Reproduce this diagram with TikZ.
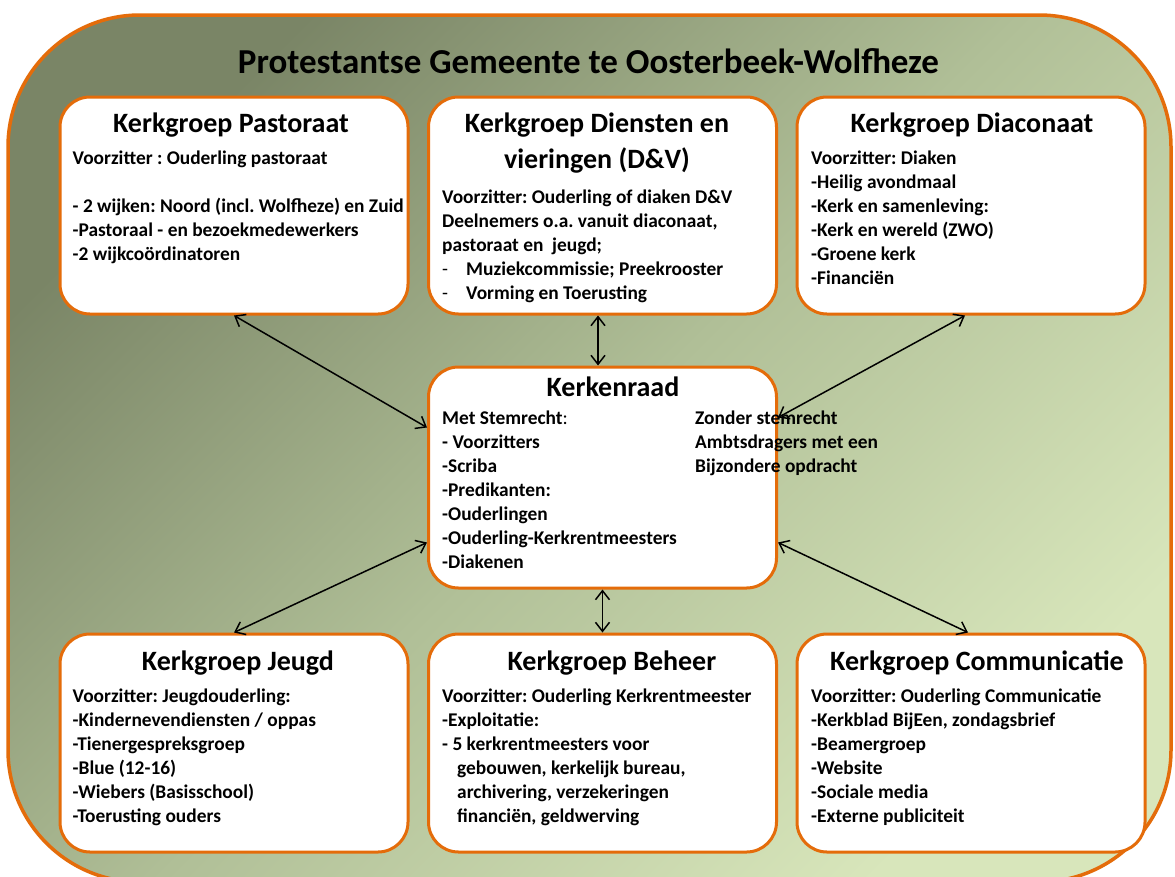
\documentclass[tikz,border=0pt]{standalone}
\usepackage{fontspec}
\setmainfont{Carlito}
\usetikzlibrary{arrows.meta,calc}
\definecolor{orng}{HTML}{E46C0A}
\definecolor{bgdark}{HTML}{7A8566}
\definecolor{bgmid}{HTML}{B0BF97}
\definecolor{bglight}{HTML}{D8E6BB}
\frenchspacing
\begin{document}
\begin{tikzpicture}[x=1pt,y=-1pt,
  box/.style={draw=orng, line width=3pt, fill=white, rounded corners=30pt, inner sep=0pt},
  ttl/.style={font=\fontsize{35}{42}\selectfont\bfseries, anchor=base, inner sep=0pt},
  hd/.style={font=\fontsize{28}{34}\selectfont\bfseries, anchor=base, inner sep=0pt},
  bd/.style={font=\fontsize{19.4}{24}\selectfont\bfseries, anchor=base west, inner sep=0pt},
  link/.style={{Straight Barb[length=9pt,width=14pt]}-{Straight Barb[length=9pt,width=14pt]}, line width=1.5pt, black}
]
\useasboundingbox (0,0) rectangle (1175,876);
\fill[white] (0,0) rectangle (1175,876);
% outer frame
\path[draw=orng, line width=3.5pt, rounded corners=132pt,
  top color=bgdark, bottom color=bglight, middle color=bgmid, shading angle=45]
  (8,15) rectangle (1171,882);

\node[ttl] (title) at (588.5,73) {Protestantse Gemeente te Oosterbeek-Wolfheze};

% boxes
\node[box, minimum width=348pt, minimum height=217pt] (pas) at (234,205.5) {};
\node[box, minimum width=348pt, minimum height=217pt] (dv) at (602.5,205.5) {};
\node[box, minimum width=348pt, minimum height=217pt] (dia) at (971,205.5) {};
\node[box, minimum width=348pt, minimum height=221pt] (ker) at (602.5,477.5) {};
\node[box, minimum width=348pt, minimum height=218pt] (jeu) at (234,743) {};
\node[box, minimum width=348pt, minimum height=218pt] (beh) at (602.5,743) {};
\node[box, minimum width=348pt, minimum height=218pt] (com) at (971,743) {};

% Pastoraat
\node[hd] (pash) at (231,132) {Kerkgroep Pastoraat};
\node[bd] (pas1) at (72.5,164) {Voorzitter : Ouderling pastoraat};
\node[bd] (pas2) at (72.5,212) {- 2 wijken: Noord (incl. Wolfheze) en Zuid};
\node[bd] (pas3) at (72.5,236) {-Pastoraal - en bezoekmedewerkers};
\node[bd] (pas4) at (72.5,260) {-2 wijkcoördinatoren};

% D&V
\node[hd] (dvh1) at (597,132) {Kerkgroep Diensten en};
\node[hd] (dvh2) at (597,168) {vieringen (D\&V)};
\node[bd] (dv1) at (442,203) {Voorzitter: Ouderling of diaken D\&V};
\node[bd] (dv2) at (442,227) {Deelnemers o.a. vanuit diaconaat,};
\node[bd] (dv3) at (442,251) {pastoraat en\ \ jeugd;};
\node[bd] (dv4a) at (442,275) {\mdseries -};
\node[bd] (dv4) at (466,275) {Muziekcommissie; Preekrooster};
\node[bd] (dv5a) at (442,299) {\mdseries -};
\node[bd] (dv5) at (466,299) {Vorming en Toerusting};

% Diaconaat
\node[hd] (diah) at (972,132) {Kerkgroep Diaconaat};
\node[bd] (dia1) at (811,164) {Voorzitter: Diaken};
\node[bd] (dia2) at (811,188) {-Heilig avondmaal};
\node[bd] (dia3) at (811,212) {-Kerk en samenleving:};
\node[bd] (dia4) at (811,236) {-Kerk en wereld (ZWO)};
\node[bd] (dia5) at (811,260) {-Groene kerk};
\node[bd] (dia6) at (811,284) {-Financiën};

% Kerkenraad
\node[hd] (kerh) at (613,396) {Kerkenraad};
\node[bd] (ker1) at (442,424) {Met Stemrecht\mdseries:};
\node[bd] (ker2) at (442,448) {- Voorzitters};
\node[bd] (ker3) at (442,472) {-Scriba};
\node[bd] (ker4) at (442,496) {-Predikanten:};
\node[bd] (ker5) at (442,520) {-Ouderlingen};
\node[bd] (ker6) at (442,544) {-Ouderling-Kerkrentmeesters};
\node[bd] (ker7) at (442,568) {-Diakenen};
\node[bd] (kerr1) at (695,424) {Zonder stemrecht};
\node[bd] (kerr2) at (695,448) {Ambtsdragers met een};
\node[bd] (kerr3) at (695,472) {Bijzondere opdracht};

% Jeugd
\node[hd] (jeuh) at (238,670) {Kerkgroep Jeugd};
\node[bd] (jeu1) at (72.5,702) {Voorzitter: Jeugdouderling:};
\node[bd] (jeu2) at (72.5,726) {-Kindernevendiensten / oppas};
\node[bd] (jeu3) at (72.5,750) {-Tienergespreksgroep};
\node[bd] (jeu4) at (72.5,774) {-Blue (12-16)};
\node[bd] (jeu5) at (72.5,798) {-Wiebers (Basisschool)};
\node[bd] (jeu6) at (72.5,822) {-Toerusting ouders};

% Beheer
\node[hd] (behh) at (612,670) {Kerkgroep Beheer};
\node[bd] (beh1) at (442,702) {Voorzitter: Ouderling Kerkrentmeester};
\node[bd] (beh2) at (442,726) {-Exploitatie:};
\node[bd] (beh3) at (442,750) {- 5 kerkrentmeesters voor};
\node[bd] (beh4) at (457,774) {gebouwen, kerkelijk bureau,};
\node[bd] (beh5) at (457,798) {archivering, verzekeringen};
\node[bd] (beh6) at (457,822) {financiën, geldwerving};

% Communicatie
\node[hd] (comh) at (977,670) {Kerkgroep Communicatie};
\node[bd] (com1) at (811,702) {Voorzitter: Ouderling Communicatie};
\node[bd] (com2) at (811,726) {-Kerkblad BijEen, zondagsbrief};
\node[bd] (com3) at (811,750) {-Beamergroep};
\node[bd] (com4) at (811,774) {-Website};
\node[bd] (com5) at (811,798) {-Sociale media};
\node[bd] (com6) at (811,822) {-Externe publiciteit};

% connectors
\draw[link] (pas.south) -- ([yshift=50pt]ker.west);
\draw[link] ([xshift=-4.5pt]dv.south) -- ([xshift=-4.5pt]ker.north);
\draw[link] ([xshift=-6pt]dia.south) -- ([yshift=60pt]ker.east);
\draw[link] ([yshift=-65pt]ker.west) -- (jeu.north);
\draw[link] (ker.south) -- (beh.north);
\draw[link] ([yshift=-65pt]ker.east) -- ([xshift=-3pt]com.north);
\end{tikzpicture}
\end{document}
